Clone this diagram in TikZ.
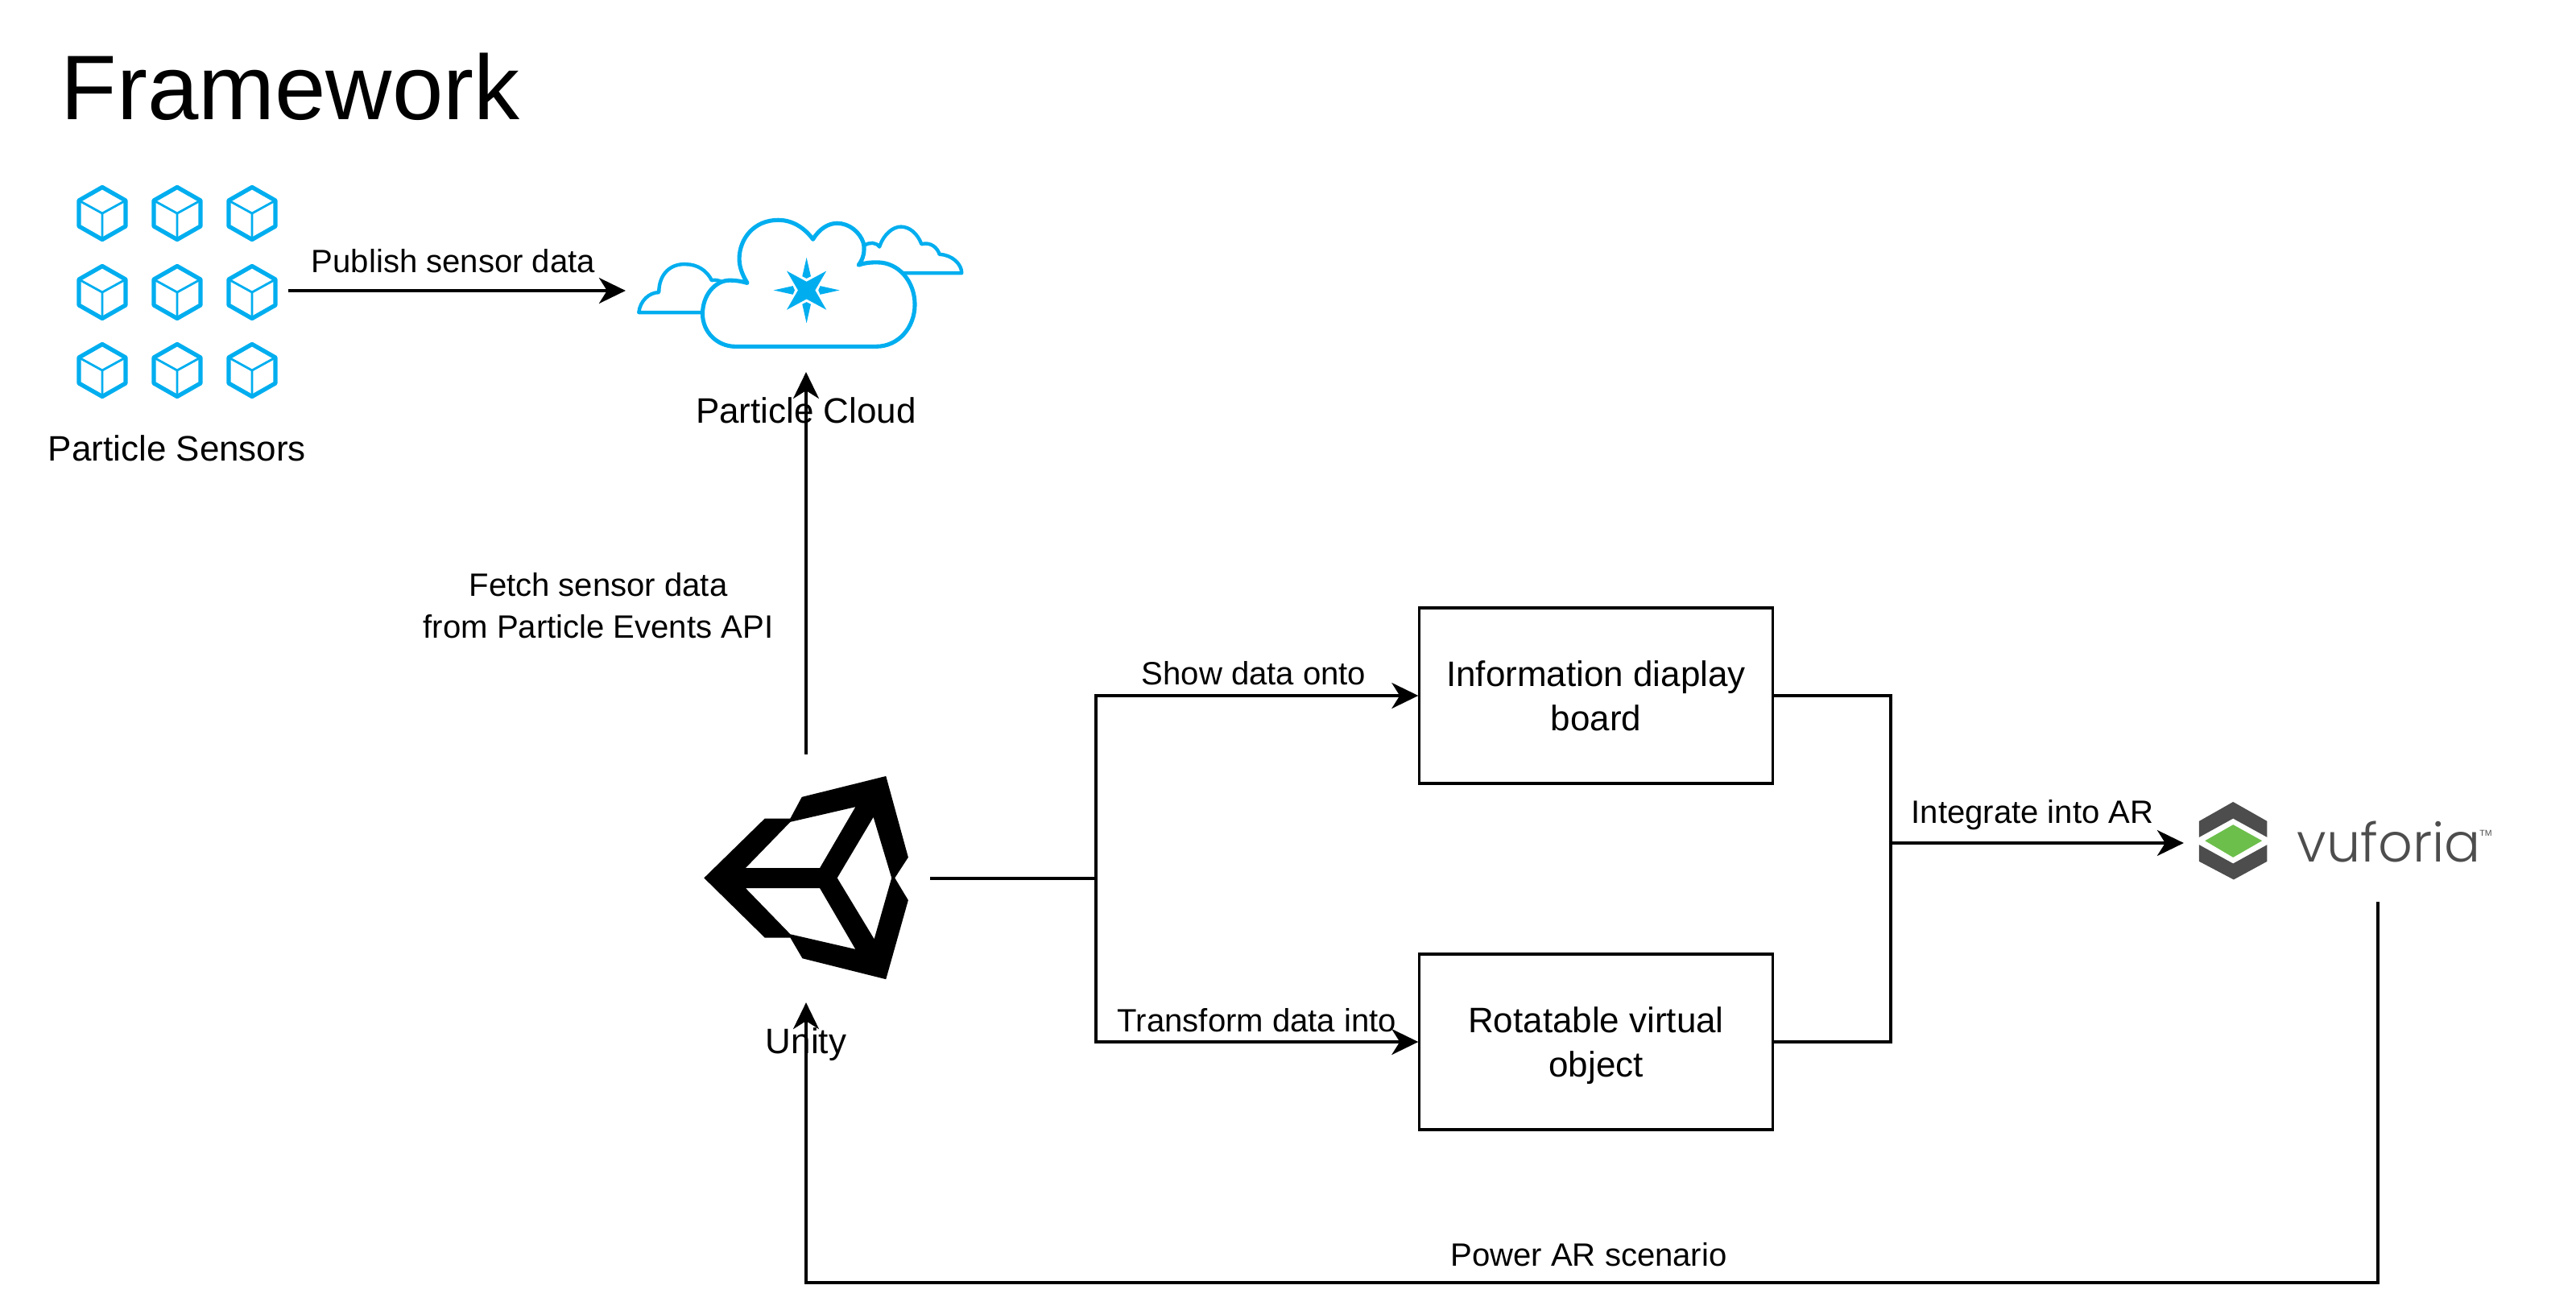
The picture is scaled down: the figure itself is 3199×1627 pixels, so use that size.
\documentclass[tikz,border=0pt]{standalone}
\usepackage{fontspec}
\setmainfont{Liberation Sans}
\newfontfamily\vufont{Poppins Light}
\usetikzlibrary{arrows.meta, positioning, calc}
\definecolor{particleblue}{HTML}{00AEEF}
\definecolor{vugrey}{HTML}{4D4D4D}
\definecolor{vugreen}{HTML}{6CBF4B}
\tikzset{
  lbl/.style={font=\fontsize{11.4pt}{14.6pt}\selectfont, align=center, inner sep=0pt},
  iconlbl/.style={font=\fontsize{12.5pt}{15.6pt}\selectfont, align=center, inner sep=0pt},
  boxtxt/.style={draw, line width=0.9pt, font=\fontsize{12.5pt}{15.6pt}\selectfont, align=center,
    minimum width=4.38cm, minimum height=2.18cm, inner sep=0pt},
  iconbox/.style={inner sep=0pt, outer sep=0pt},
  conn/.style={line width=0.9pt},
  arr/.style={conn, -{Stealth[length=0.33cm, width=0.32cm, inset=0.1cm]}},
  cubeicon/.pic={
    \draw[particleblue, line width=1.5pt, line join=round] (-29,-16) -- (0,-32.5) -- (29,-16) -- (29,16) -- (0,32.5) -- (-29,16) -- cycle;
    \draw[particleblue, line width=0.8pt] (-29,-16) -- (0,0) -- (29,-16) (0,0) -- (0,32.5);
  }
}
\begin{document}
\begin{tikzpicture}[x=0.01cm, y=-0.01cm]
\useasboundingbox (0,0) rectangle (3199,1627);
\node[anchor=west, inner sep=0pt, font=\fontsize{32.4pt}{36pt}\selectfont] (title) at (75,108) {Framework};

\node[iconbox, minimum width=2.76cm, minimum height=3cm] (sensors) at (220,361) {};
\foreach \cx in {127,220,313}
  \foreach \cy in {265,363,460}
    \pic at (\cx,\cy) {cubeicon};
\node[iconlbl] (sensorslabel) at (220,557) {Particle Sensors};

\node[iconbox, minimum width=4.48cm, minimum height=2.02cm] (cloud) at (1001,361) {};
\begin{scope}[shift={(760,240)}, x=0.00333cm, y=-0.00333cm]
  \draw[particleblue, line width=1.25pt, line join=round]
    (335,445) -- (100,445) .. controls (105,400) and (140,370) .. (175,370)
    .. controls (175,300) and (220,262) .. (275,265) .. controls (320,265) and (355,290) .. (372,325)
    .. controls (385,322) and (400,325) .. (412,332);
  \draw[particleblue, line width=1.25pt, line join=round]
    (942,195) .. controls (960,182) and (985,182) .. (998,200)
    .. controls (1015,150) and (1050,125) .. (1078,125) .. controls (1110,125) and (1140,150) .. (1155,190)
    .. controls (1190,180) and (1215,205) .. (1222,228) .. controls (1270,230) and (1305,265) .. (1305,298) -- (1085,298);
  \draw[particleblue, line width=1.45pt, line join=round]
    (460,572) -- (985,572) .. controls (1070,572) and (1130,500) .. (1130,415)
    .. controls (1130,330) and (1070,258) .. (990,258) .. controls (970,258) and (950,258) .. (920,268)
    .. controls (938,245) and (945,215) .. (938,185) .. controls (925,145) and (885,112) .. (840,112)
    .. controls (810,112) and (775,130) .. (750,172) .. controls (715,125) and (670,100) .. (620,100)
    .. controls (530,100) and (475,170) .. (475,245) .. controls (475,280) and (490,310) .. (505,335)
    .. controls (480,328) and (460,325) .. (440,325) .. controls (385,325) and (338,380) .. (338,450)
    .. controls (338,520) and (395,572) .. (460,572) -- cycle;
  \fill[particleblue] (726,330) -- (800,290) -- (758,362) -- (800,435) -- (726,395) -- (652,435) -- (694,362) -- (652,290) -- cycle;
  \fill[particleblue] (726,240) -- (742,310) -- (726,318) -- (710,310) -- cycle;
  \fill[particleblue] (726,485) -- (742,414) -- (726,406) -- (710,414) -- cycle;
  \fill[particleblue] (603,362) -- (675,346) -- (682,362) -- (675,378) -- cycle;
  \fill[particleblue] (849,362) -- (777,346) -- (770,362) -- (777,378) -- cycle;
\end{scope}
\node[iconlbl] (cloudlabel) at (1001,510) {Particle Cloud};

\node[iconbox, minimum width=3.08cm, minimum height=3.08cm] (unity) at (1001,1091) {};
\begin{scope}[shift={(840,920)}, x=0.00333cm, y=-0.00333cm]
  \fill[black, even odd rule]
    (103,512) -- (330,290) -- (425,290) -- (468,210) -- (782,132) -- (865,435) -- (815,512) -- (865,595)
    -- (782,890) -- (470,812) -- (425,735) -- (330,735) -- cycle
    (258,475) -- (425,303) -- (668,247) -- (535,475) -- cycle
    (735,285) -- (600,512) -- (738,740) -- (803,512) -- cycle
    (258,550) -- (535,550) -- (668,778) -- (425,722) -- cycle;
\end{scope}
\node[iconlbl] (unitylabel) at (1001,1297) {Unity};

\node[boxtxt] (info) at (1982,864) {Information diaplay\\board};
\node[boxtxt] (rot) at (1982,1294) {Rotatable virtual\\ob\smash{j}ect};

\node[iconbox, minimum width=4.82cm, minimum height=1.46cm] (vuforia) at (2953,1047) {};
\begin{scope}[shift={(2680,960)}, x=0.00333cm, y=-0.00333cm]
  \fill[vugrey] (153,180) -- (280,108) -- (407,180) -- (407,240) -- (280,170) -- (153,240) -- cycle;
  \fill[vugrey] (153,268) -- (280,338) -- (407,268) -- (407,330) -- (282,398) -- (153,330) -- cycle;
  \fill[vugreen] (175,253) -- (280,193) -- (388,253) -- (280,315) -- cycle;
\end{scope}
\node[anchor=base west, inner sep=0pt, text=vugrey, font=\vufont\fontsize{19pt}{22pt}\selectfont] (vutext) at (2852,1070) {vuforia};
\node[inner sep=0pt, text=vugrey, font=\fontsize{3pt}{3pt}\selectfont] (vutm) at (3087,1035) {TM};

\node[lbl] (publishlabel) at (563,324) {Publish sensor data};
\node[lbl] (fetchlabel) at (743,752) {Fetch sensor data\\from Particle Events API};
\node[lbl] (showlabel) at (1557,836) {Show data onto};
\node[lbl] (transformlabel) at (1561,1267) {Transform data into};
\node[lbl] (integratelabel) at (2524,1012) {Integrate into AR};
\node[lbl] (powerlabel) at (1973,1558) {Power AR scenario};

\coordinate (split) at (1361,1091);
\coordinate (join) at (2348,1047);
\coordinate (under) at (2953,1593);

\draw[arr] (sensors.east) -- (cloud.west);
\draw[arr] (unity.north) -- (cloud.south);
\draw[conn] (unity.east) -- (split);
\draw[arr] (split) |- (info.west);
\draw[arr] (split) |- (rot.west);
\draw[conn] (info.east) -| (join);
\draw[conn] (rot.east) -| (join);
\draw[arr] (join) -- (vuforia.west);
\draw[arr] (vuforia.south) -- (under) -| (unity.south);
\end{tikzpicture}
\end{document}
